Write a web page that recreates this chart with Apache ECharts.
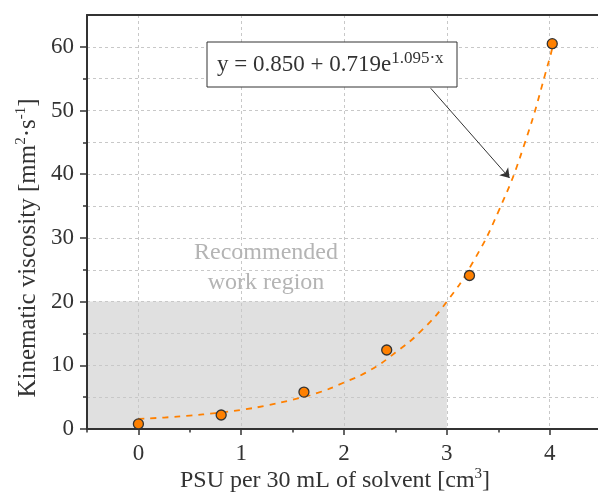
<!DOCTYPE html>
<html>
<head>
<meta charset="utf-8">
<script src="https://cdn.jsdelivr.net/npm/echarts@6/dist/echarts.min.js"></script>
<style>
  html, body { margin: 0; padding: 0; background: #fff; }
  #main { width: 598px; height: 502px; }
</style>
</head>
<body>
<div id="main"></div>
<script>
// measured points
var ptX = [0, 0.805, 1.61, 2.415, 3.22, 4.025];
var ptY = [0.8, 2.2, 5.8, 12.4, 24.1, 60.5];

// dashed fit curve
var fitX = [0, 0.25, 0.5, 0.75, 1, 1.25, 1.5, 1.75, 2, 2.25, 2.5, 2.75, 3, 3.25, 3.5, 3.75, 4, 4.03];
var fitY = [1.6, 1.8, 2.1, 2.5, 3.0, 3.7, 4.6, 5.7, 7.3, 9.2, 12.0, 15.4, 20.0, 26.1, 34.1, 44.5, 58.2, 60.2];

// ticks
var xTicks = [0, 1, 2, 3, 4];
var xMinorTicks = [-0.5, 0.5, 1.5, 2.5, 3.5];
var yTicks = [0, 10, 20, 30, 40, 50, 60];
var yMinorTicks = [5, 15, 25, 35, 45, 55];

// recommended region and arrow
var regionX = [-0.5, 3];
var regionY = [0, 20];
var arrowFrom = [2.843, 53.5];
var arrowTo = [3.61, 39.4];

var font = 'Liberation Serif';
var ink = '#333';
var orange = '#ff8000';

function zip(a, b) {
    return a.map(function (v, i) { return [v, b[i]]; });
}

var gridLine = { show: true, lineStyle: { color: '#c8c8c8', width: 1, type: [3, 3] } };

var myChart = echarts.init(document.getElementById('main'));

myChart.setOption({
    animation: false,
    grid: { left: 87, right: 0, top: 15, bottom: 73 },
    xAxis: [{
        type: 'value', position: 'bottom', min: -0.5, max: 4.47, z: 5,
        axisLine: { onZero: false, lineStyle: { color: ink, width: 2 } },
        axisTick: { customValues: xTicks, length: 6, lineStyle: { color: ink, width: 1.5 } },
        axisLabel: { customValues: xTicks, margin: 13, color: ink, fontFamily: font, fontSize: 23 },
        splitLine: gridLine
    }, {
        type: 'value', position: 'bottom', min: -0.5, max: 4.47, z: 5,
        axisLine: { show: false, onZero: false },
        axisTick: { customValues: xMinorTicks, length: 3.5, lineStyle: { color: ink, width: 1.5 } },
        axisLabel: { show: false },
        splitLine: { show: false }
    }, {
        type: 'value', position: 'top', min: -0.5, max: 4.47, z: 5,
        axisLine: { onZero: false, lineStyle: { color: ink, width: 2 } },
        axisTick: { show: false },
        axisLabel: { show: false },
        splitLine: { show: false }
    }],
    yAxis: [{
        type: 'value', position: 'left', min: 0, max: 65, z: 5,
        axisLine: { onZero: false, lineStyle: { color: ink, width: 2 } },
        axisTick: { customValues: yTicks, length: 7, lineStyle: { color: ink, width: 1.5 } },
        axisLabel: { customValues: yTicks, margin: 13, color: ink, fontFamily: font, fontSize: 23 },
        splitLine: gridLine
    }, {
        type: 'value', position: 'left', min: 0, max: 65, z: 5,
        axisLine: { show: false, onZero: false },
        axisTick: { customValues: yMinorTicks, length: 4, lineStyle: { color: ink, width: 1.5 } },
        axisLabel: { show: false },
        splitLine: gridLine
    }],
    series: [{
        type: 'line',
        data: [],
        z: 1,
        markArea: {
            silent: true,
            z: 1,
            itemStyle: { color: '#e0e0e0' },
            data: [[{ coord: [regionX[0], regionY[0]] }, { coord: [regionX[1], regionY[1]] }]]
        }
    }, {
        type: 'line',
        data: zip(fitX, fitY),
        smooth: true,
        symbol: 'none',
        z: 10,
        lineStyle: { color: orange, width: 1.8, type: [6, 6] },
        markLine: {
            silent: true,
            symbol: ['none', 'arrow'],
            symbolSize: 9,
            label: { show: false },
            lineStyle: { color: ink, width: 1, type: 'solid' },
            data: [[{ coord: arrowFrom }, { coord: arrowTo }]]
        }
    }, {
        type: 'scatter',
        data: zip(ptX, ptY),
        symbolSize: 10,
        z: 12,
        itemStyle: { color: orange, borderColor: ink, borderWidth: 1.3, opacity: 1 }
    }],
    graphic: [{
        type: 'rect', z: 20,
        shape: { x: 207, y: 42, width: 250, height: 45 },
        style: { fill: '#fff', stroke: ink, lineWidth: 1 }
    }, {
        type: 'text', z: 21, x: 217, y: 65,
        style: {
            text: '{m|y = 0.850 + 0.719e}{s|1.095·x}',
            verticalAlign: 'middle',
            fill: ink,
            rich: {
                m: { fontFamily: font, fontSize: 23, lineHeight: 30, fill: ink },
                s: { fontFamily: font, fontSize: 17, lineHeight: 10, verticalAlign: 'top', fill: ink }
            }
        }
    }, {
        type: 'text', z: 21, x: 266, y: 268,
        style: {
            text: 'Recommended\nwork region',
            align: 'center', verticalAlign: 'middle',
            fontFamily: font, fontSize: 24, lineHeight: 30, fill: '#b4b4b4'
        }
    }, {
        type: 'text', z: 21, x: 335, y: 481,
        style: {
            text: '{m|PSU per 30 mL of solvent [cm}{s|3}{m|]}',
            align: 'center', verticalAlign: 'middle',
            rich: {
                m: { fontFamily: font, fontSize: 24, lineHeight: 28, fill: ink },
                s: { fontFamily: font, fontSize: 15, lineHeight: 12, verticalAlign: 'top', fill: ink }
            }
        }
    }, {
        type: 'text', z: 21, x: 28, y: 248, rotation: Math.PI / 2,
        style: {
            text: '{m|Kinematic viscosity [mm}{s|2}{m|·s}{s|-1}{m|]}',
            align: 'center', verticalAlign: 'middle',
            rich: {
                m: { fontFamily: font, fontSize: 25, lineHeight: 28, fill: ink },
                s: { fontFamily: font, fontSize: 15, lineHeight: 12, verticalAlign: 'top', fill: ink }
            }
        }
    }]
});

window.addEventListener('resize', function () {
    myChart.resize();
});
</script>
</body>
</html>
